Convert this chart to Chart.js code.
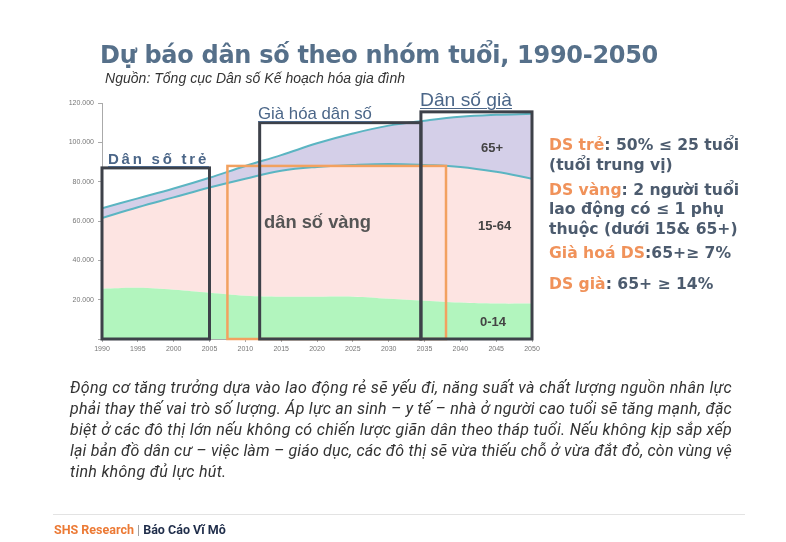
<!DOCTYPE html>
<html>
<head>
<meta charset="utf-8">
<script src="https://cdn.jsdelivr.net/npm/chart.js@4.4.0/dist/chart.umd.min.js"></script>
<style>
  html,body{margin:0;padding:0;background:#fff;}
  body{width:786px;height:542px;position:relative;overflow:hidden;font-family:"Liberation Sans",Arial,sans-serif;}
  #c{position:absolute;left:0;top:0;}
  .t{position:absolute;white-space:nowrap;z-index:2;}
  #title{left:100px;top:41px;font-family:"DejaVu Sans",sans-serif;font-weight:bold;font-size:24px;color:#56708a;}
  #sub{left:105px;top:70px;font-style:italic;font-size:14px;color:#333;}
  .lbl{font-family:"Liberation Sans",Arial,sans-serif;color:#4b6688;text-decoration:underline;text-decoration-thickness:1px;text-underline-offset:2px;}
  .in{font-family:"Liberation Sans",Arial,sans-serif;font-weight:bold;font-size:13px;color:#444;}
  .rt{font-family:"DejaVu Sans",sans-serif;font-weight:bold;font-size:15.6px;color:#4c5b6e;}
  .rt .o{color:#f0925a;}
  .para{left:70px;font-family:Roboto,sans-serif;font-style:italic;font-size:16px;color:#333;}
  #rule{position:absolute;left:53px;top:514px;width:692px;height:1px;background:#e3e3e3;}
  #foot{left:54px;top:522px;font-family:Roboto,sans-serif;font-weight:bold;font-size:12.5px;}
</style>
</head>
<body>
<canvas id="c" width="786" height="542"></canvas>

<div class="t fit" id="title" data-w="558">Dự báo dân số theo nhóm tuổi, 1990-2050</div>
<div class="t fit" id="sub" data-w="300">Nguồn: Tổng cục Dân số Kế hoạch hóa gia đình</div>

<div class="t lbl fit" data-w="101" style="left:108px;top:150px;font-size:15px;font-weight:bold;">Dân số trẻ</div>
<div class="t lbl fitsize" data-w="114" style="left:258px;top:104px;font-size:16.5px;">Già hóa dân số</div>
<div class="t lbl fitsize" data-w="92" data-base="108" style="left:420px;font-size:16px;">Dân số già</div>

<div class="t fitsize" data-w="107" style="left:264px;top:211px;font-family:'Liberation Sans',Arial,sans-serif;font-weight:bold;font-size:18px;color:#555;">dân số vàng</div>
<div class="t in" style="left:481px;top:140px;">65+</div>
<div class="t in" style="left:478px;top:218px;">15-64</div>
<div class="t in" style="left:480px;top:314px;">0-14</div>

<div class="t rt" style="left:549px;top:136px;"><span class="o">DS trẻ</span>: 50% ≤ 25 tuổi</div>
<div class="t rt" style="left:549px;top:156px;">(tuổi trung vị)</div>
<div class="t rt" style="left:549px;top:181px;"><span class="o">DS vàng</span>: 2 người tuổi</div>
<div class="t rt" style="left:549px;top:200px;">lao động có ≤ 1 phụ</div>
<div class="t rt" style="left:549px;top:220px;">thuộc (dưới 15&amp; 65+)</div>
<div class="t rt" style="left:549px;top:244px;"><span class="o">Già hoá DS</span>:65+≥ 7%</div>
<div class="t rt" style="left:549px;top:275px;"><span class="o">DS già</span>: 65+ ≥ 14%</div>

<div class="t para fit" data-w="662" style="top:378px;">Động cơ tăng trưởng dựa vào lao động rẻ sẽ yếu đi, năng suất và chất lượng nguồn nhân lực</div>
<div class="t para fit" data-w="662" style="top:399px;">phải thay thế vai trò số lượng. Áp lực an sinh – y tế – nhà ở người cao tuổi sẽ tăng mạnh, đặc</div>
<div class="t para fit" data-w="662" style="top:420px;">biệt ở các đô thị lớn nếu không có chiến lược giãn dân theo tháp tuổi. Nếu không kịp sắp xếp</div>
<div class="t para fit" data-w="662" style="top:441px;">lại bản đồ dân cư – việc làm – giáo dục, các đô thị sẽ vừa thiếu chỗ ở vừa đắt đỏ, còn vùng vệ</div>
<div class="t para" style="top:462px;letter-spacing:0.3px;">tinh không đủ lực hút.</div>

<div id="rule"></div>
<div class="t" id="foot"><span style="color:#ec7a35;">SHS Research</span><span style="color:#999;font-weight:normal;"> | </span> <span style="color:#1f2d4a;">Báo Cáo Vĩ Mô</span></div>

<script>
// ---- data ----
const years = [1990,1995,2000,2005,2010,2015,2020,2025,2030,2035,2040,2045,2050];
const age0_14  = [25500,26000,25000,23500,22000,21500,21500,21500,20500,19500,18500,18000,18000];
const age15_64 = [36000,41000,47000,53500,59500,64000,66000,67000,68500,69000,69000,67000,63500];
const age65    = [5000,4500,4500,5000,6500,8000,12000,16000,19500,22500,25500,29000,33000];
const yTicks = [0,20000,40000,60000,80000,100000,120000];
// phase boxes (data coordinates)
const boxStart = [2007.5, 1990, 2012, 2034.5];
const boxEnd   = [2038,   2005, 2034.5, 2050];
const boxTop   = [88000,  87000, 110000, 115500];
const boxKind  = ['orange','dark','dark','dark'];

// fit text lines to measured widths
document.querySelectorAll('.fit').forEach(el=>{
  const target = parseFloat(el.dataset.w);
  const nat = el.getBoundingClientRect().width;
  const n = el.textContent.length;
  el.style.letterSpacing = ((target - nat) / n) + 'px';
});
document.querySelectorAll('.fitsize').forEach(el=>{
  const target = parseFloat(el.dataset.w);
  const nat = el.getBoundingClientRect().width;
  const fs = parseFloat(getComputedStyle(el).fontSize) * target / nat;
  el.style.fontSize = fs + 'px';
  if (el.dataset.base) el.style.top = (parseFloat(el.dataset.base) - fs) + 'px';
});

const pts = arr => arr.map((v,i)=>({x:years[i], y:v}));

const boxPlugin = {
  id:'boxes',
  afterDatasetsDraw(chart){
    const {ctx, scales:{x,y}} = chart;
    ctx.save();
    for(let i=0;i<boxStart.length;i++){
      const x0=x.getPixelForValue(boxStart[i]), x1=x.getPixelForValue(boxEnd[i]);
      const y0=y.getPixelForValue(0), y1=y.getPixelForValue(boxTop[i]);
      ctx.strokeStyle = boxKind[i]==='orange' ? '#f2a160' : '#3d4149';
      ctx.lineWidth = boxKind[i]==='orange' ? 2.5 : 3;
      ctx.strokeRect(x0, y1, x1-x0, y0-y1);
    }
    ctx.restore();
  }
};

new Chart(document.getElementById('c'), {
  type:'line',
  data:{
    datasets:[
      {label:'0-14', data:pts(age0_14), fill:'origin', backgroundColor:'rgb(178,245,190)', borderWidth:0, pointRadius:0, tension:0.4},
      {label:'15-64', data:pts(age15_64), fill:'-1', backgroundColor:'rgb(253,228,226)', borderColor:'#5bb5c2', borderWidth:2, pointRadius:0, tension:0.4},
      {label:'65+', data:pts(age65), fill:'-1', backgroundColor:'rgb(212,207,232)', borderColor:'#5bb5c2', borderWidth:2, pointRadius:0, tension:0.4}
    ]
  },
  options:{
    responsive:false, animation:false,
    layout:{padding:{left:62, top:103, right:254, bottom:183}},
    plugins:{legend:{display:false}, tooltip:{enabled:false}},
    scales:{
      x:{type:'linear', min:1990, max:2050,
        afterFit(s){ s.height = 20; },
        ticks:{stepSize:5, callback:v=>String(v), color:'#777', font:{size:7, family:'Liberation Sans'}, padding:3, maxRotation:0},
        grid:{drawOnChartArea:false, tickLength:3, color:'#aaa'},
        border:{color:'#aaa'}
      },
      y:{stacked:true, min:0, max:120000,
        afterFit(s){ s.width = 40; },
        afterBuildTicks(s){ s.ticks = yTicks.map(v=>({value:v})); },
        ticks:{callback:v=> v===0 ? '' : (v/1000).toFixed(3), color:'#777', font:{size:7, family:'Liberation Sans'}, padding:4},
        grid:{drawOnChartArea:false, tickLength:4, color:'#aaa'},
        border:{color:'#aaa'}
      }
    }
  },
  plugins:[boxPlugin]
});
</script>
</body>
</html>
